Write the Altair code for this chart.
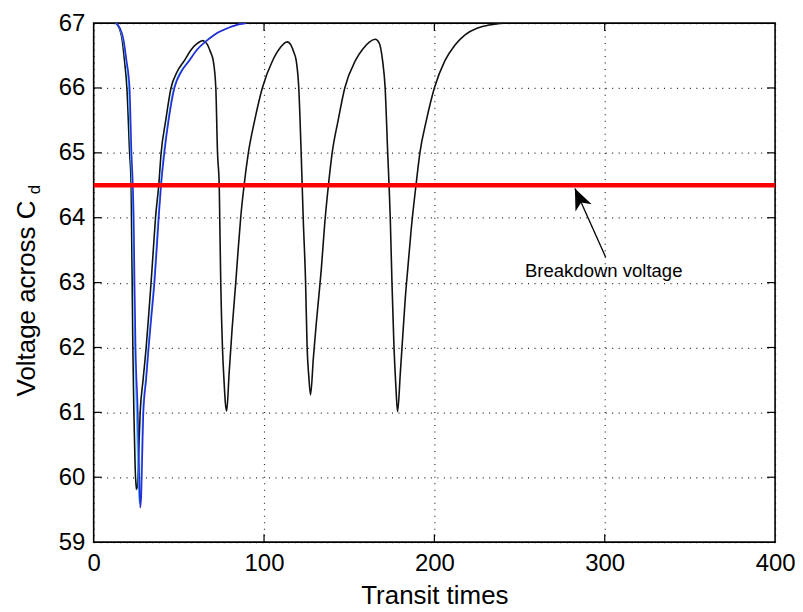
import altair as alt
import pandas as pd

# ---- data ----
black_x = [13, 15, 16.5, 18.1, 19.5, 21.1, 22, 22.2, 22.6, 23.0, 23.6, 24.3, 25.0, 25.6, 26.3, 27.3,
           29.0, 30.8, 32.3, 33.7, 35.0, 36.3, 38.2, 39.6, 42.3, 45.4, 49, 53.2, 57, 61, 64, 66.5,
           68.5, 70.2, 71.7, 72.7, 73.7, 74.0, 74.6, 75.6, 76.5, 77.3, 78.1,
           79.5, 81.3, 83.4, 84.8, 86.3, 88.3, 90.8, 94.5, 99.0, 105, 109.5, 113.6, 115.8, 117.5,
           118.9, 120.4, 121.8, 122.4, 123.0, 124.4, 125.3, 126.3, 127.3,
           129, 130.6, 132.2, 133.6, 135.6, 137.8, 140, 143.5, 147.4, 153.6, 158, 162, 165.3, 167.5,
           169.6, 171.1, 172.6, 173.4, 174.1, 175.1, 176.3, 177.4, 178.4,
           180, 181.5, 182.9, 184.5, 186.5, 189.2, 191.5, 195.3, 200, 206.2, 212, 218, 225, 232, 240]
black_y = [67.0, 66.92, 66.78, 66.42, 66.0, 65.0, 64.5, 64.0, 63.0, 62.0, 61.0, 60.2, 59.81, 59.85, 60.3, 61.0,
           61.5, 62.0, 62.5, 63.0, 63.5, 64.0, 64.5, 65.0, 65.5, 66.0, 66.25, 66.42, 66.58, 66.69, 66.73, 66.68,
           66.56, 66.42, 66.0, 65.0, 64.5, 64.0, 63.0, 62.0, 61.5, 61.15, 61.02,
           61.6, 62.3, 63.0, 63.5, 64.0, 64.5, 65.0, 65.5, 66.0, 66.42, 66.62, 66.71, 66.66, 66.55,
           66.42, 66.0, 65.0, 64.5, 64.0, 63.0, 62.0, 61.55, 61.27,
           61.85, 62.35, 62.8, 63.2, 63.9, 64.5, 65.0, 65.5, 66.0, 66.42, 66.6, 66.71, 66.75, 66.7,
           66.42, 66.0, 65.0, 64.5, 64.0, 63.0, 62.0, 61.4, 61.01,
           61.6, 62.2, 62.75, 63.25, 63.85, 64.5, 65.0, 65.5, 66.0, 66.42, 66.66, 66.82, 66.92, 66.97, 67.0]

cyan_x = [13, 15.3, 17.2, 19, 20.6, 21.8, 22.6, 23.1, 23.6, 24.2, 25.2, 26.0, 26.8, 27.5, 28.2, 28.9,
          30.5, 32, 33.7, 35.4, 36.7, 37.9, 39.3, 41.2, 43.7, 47.1, 55.8, 65.7, 79.2, 89.2]
cyan_y = [67.0, 66.92, 66.75, 66.42, 66.0, 65.0, 64.5, 64.0, 63.0, 62.0, 61.0, 60.2, 59.6, 59.65, 60.3, 61.0,
          61.5, 62.0, 62.5, 63.0, 63.5, 64.0, 64.5, 65.0, 65.5, 66.0, 66.42, 66.72, 66.93, 67.0]

blue_x = [13, 15.5, 17.5, 19.3, 21.1, 22.2, 23.0, 23.5, 24.0, 24.6, 25.9, 26.6, 27.3, 27.9, 28.5, 29.2,
          30.8, 32.3, 34, 35.7, 37, 38.2, 39.6, 41.5, 44, 47.4, 51.5, 56.1, 61, 66, 72, 79.5, 85, 89.5]
blue_y = [67.0, 66.92, 66.75, 66.42, 66.0, 65.0, 64.5, 64.0, 63.0, 62.0, 61.0, 60.2, 59.53, 59.7, 60.3, 61.0,
          61.5, 62.0, 62.5, 63.0, 63.5, 64.0, 64.5, 65.0, 65.5, 66.0, 66.25, 66.42, 66.6, 66.72, 66.84, 66.93, 66.98, 67.0]

breakdown_level = 64.5
breakdown_x = [0, 400]

annot_text = ["Breakdown voltage"]
annot_text_x = [299.4]
annot_text_y = [63.09]
arrow_tail = (300.6, 63.39)
arrow_tip = (282.5, 64.45)

x_ticks = [0, 100, 200, 300, 400]
y_ticks = [59, 60, 61, 62, 63, 64, 65, 66, 67]
inner_x_ticks = [100, 200, 300]
inner_y_ticks = [60, 61, 62, 63, 64, 65, 66]

W, H = 684, 521
FONT = "Liberation Sans, Arial, Helvetica, sans-serif"

rows = []
for name, xs, ys in [("black", black_x, black_y), ("cyan", cyan_x, cyan_y), ("blue", blue_x, blue_y)]:
    for i, (a, b) in enumerate(zip(xs, ys)):
        rows.append({"series": name, "t": a, "v": b, "i": i})
df = pd.DataFrame(rows)

xs = alt.Scale(domain=[0, 400], nice=False, zero=False)
ys = alt.Scale(domain=[59, 67], nice=False, zero=False)

xaxis = alt.Axis(values=x_ticks, format="d", title="Transit times", grid=True, gridDash=[1, 5.5],
                 gridColor="#000", gridOpacity=0.85, gridWidth=1.2, domain=False, ticks=False,
                 labelFontSize=24, labelFont=FONT, labelColor="#000", labelPadding=9, titleFont=FONT,
                 titleFontSize=26, titleFontWeight="normal", titleColor="#000", titleY=62,
                 titleBaseline="alphabetic", labelFlush=False)
yaxis = alt.Axis(values=y_ticks, format="d", title="Voltage across C", grid=True, gridDash=[1, 5.5],
                 gridColor="#000", gridOpacity=0.85, gridWidth=1.2, domain=False, ticks=False,
                 labelFontSize=24, labelFont=FONT, labelColor="#000", labelPadding=9, titleFont=FONT,
                 titleFontSize=26, titleFontWeight="normal", titleColor="#000", titleX=-59, titleY=276,
                 titleBaseline="alphabetic", titleAlign="center", titleAngle=270, labelFlush=False)

color = alt.Color("series:N", scale=alt.Scale(domain=["black", "cyan", "blue"],
                                               range=["#111111", "#45c3ff", "#2b2bd6"]), legend=None)

def curve(name):
    return alt.Chart(df[df.series == name]).mark_line(strokeWidth=1.6, clip=True,
                                                      interpolate="monotone").encode(
        x=alt.X("t:Q", scale=xs, axis=xaxis),
        y=alt.Y("v:Q", scale=ys, axis=yaxis),
        color=color,
        order="i:Q",
    )

base_lines = curve("black") + curve("cyan") + curve("blue")

red = alt.Chart(pd.DataFrame({"t": breakdown_x, "v": [breakdown_level] * 2})).mark_line(
    color="#ff0000", strokeWidth=4.5).encode(x=alt.X("t:Q", scale=xs), y=alt.Y("v:Q", scale=ys))

arrow_line = alt.Chart(pd.DataFrame({"x": [arrow_tail[0]], "y": [arrow_tail[1]],
                                     "x2": [arrow_tip[0]], "y2": [arrow_tip[1]]})).mark_rule(
    color="#000", strokeWidth=1.3).encode(x=alt.X("x:Q", scale=xs), y=alt.Y("y:Q", scale=ys), x2="x2", y2="y2")

arrow_head = alt.Chart(pd.DataFrame({"x": [arrow_tip[0]], "y": [arrow_tip[1]]})).mark_point(
    shape="M0,0 L0.42,1 L0,0.72 L-0.42,1 Z", filled=True, color="#000", opacity=1, size=1800,
    angle=335.8).encode(x=alt.X("x:Q", scale=xs), y=alt.Y("y:Q", scale=ys))

annot = alt.Chart(pd.DataFrame({"x": annot_text_x, "y": annot_text_y, "txt": annot_text})).mark_text(
    font=FONT, fontSize=18.6, baseline="alphabetic", align="center", color="#000").encode(
    x=alt.X("x:Q", scale=xs), y=alt.Y("y:Q", scale=ys), text="txt:N")

sub_d = alt.Chart(pd.DataFrame({"s": ["d"]})).mark_text(
    font=FONT, fontSize=17, angle=270, baseline="alphabetic", align="center", color="#000",
    clip=False).encode(x=alt.value(-54), y=alt.value(167), text="s:N")

# inward tick marks on all four sides
xt = pd.DataFrame({"t": inner_x_ticks})
yt = pd.DataFrame({"v": inner_y_ticks})
tb = alt.Chart(xt).mark_rule(color="#000", strokeWidth=1.2).encode(
    x=alt.X("t:Q", scale=xs), y=alt.value(H), y2=alt.value(H - 8))
tt = alt.Chart(xt).mark_rule(color="#000", strokeWidth=1.2).encode(
    x=alt.X("t:Q", scale=xs), y=alt.value(0), y2=alt.value(8))
tl = alt.Chart(yt).mark_rule(color="#000", strokeWidth=1.2).encode(
    y=alt.Y("v:Q", scale=ys), x=alt.value(0), x2=alt.value(8))
tr = alt.Chart(yt).mark_rule(color="#000", strokeWidth=1.2).encode(
    y=alt.Y("v:Q", scale=ys), x=alt.value(W), x2=alt.value(W - 8))

chart = alt.layer(base_lines, red, arrow_line, arrow_head, annot, sub_d, tb, tt, tl, tr).properties(
    width=W, height=H,
    autosize=alt.AutoSizeParams(type="none"),
    padding={"left": 86, "top": 14, "right": 20, "bottom": 66},
    background="white",
).configure_view(stroke="#000", strokeWidth=1.6)

chart.save("out.html", embed_options={"renderer": "svg", "actions": False})
